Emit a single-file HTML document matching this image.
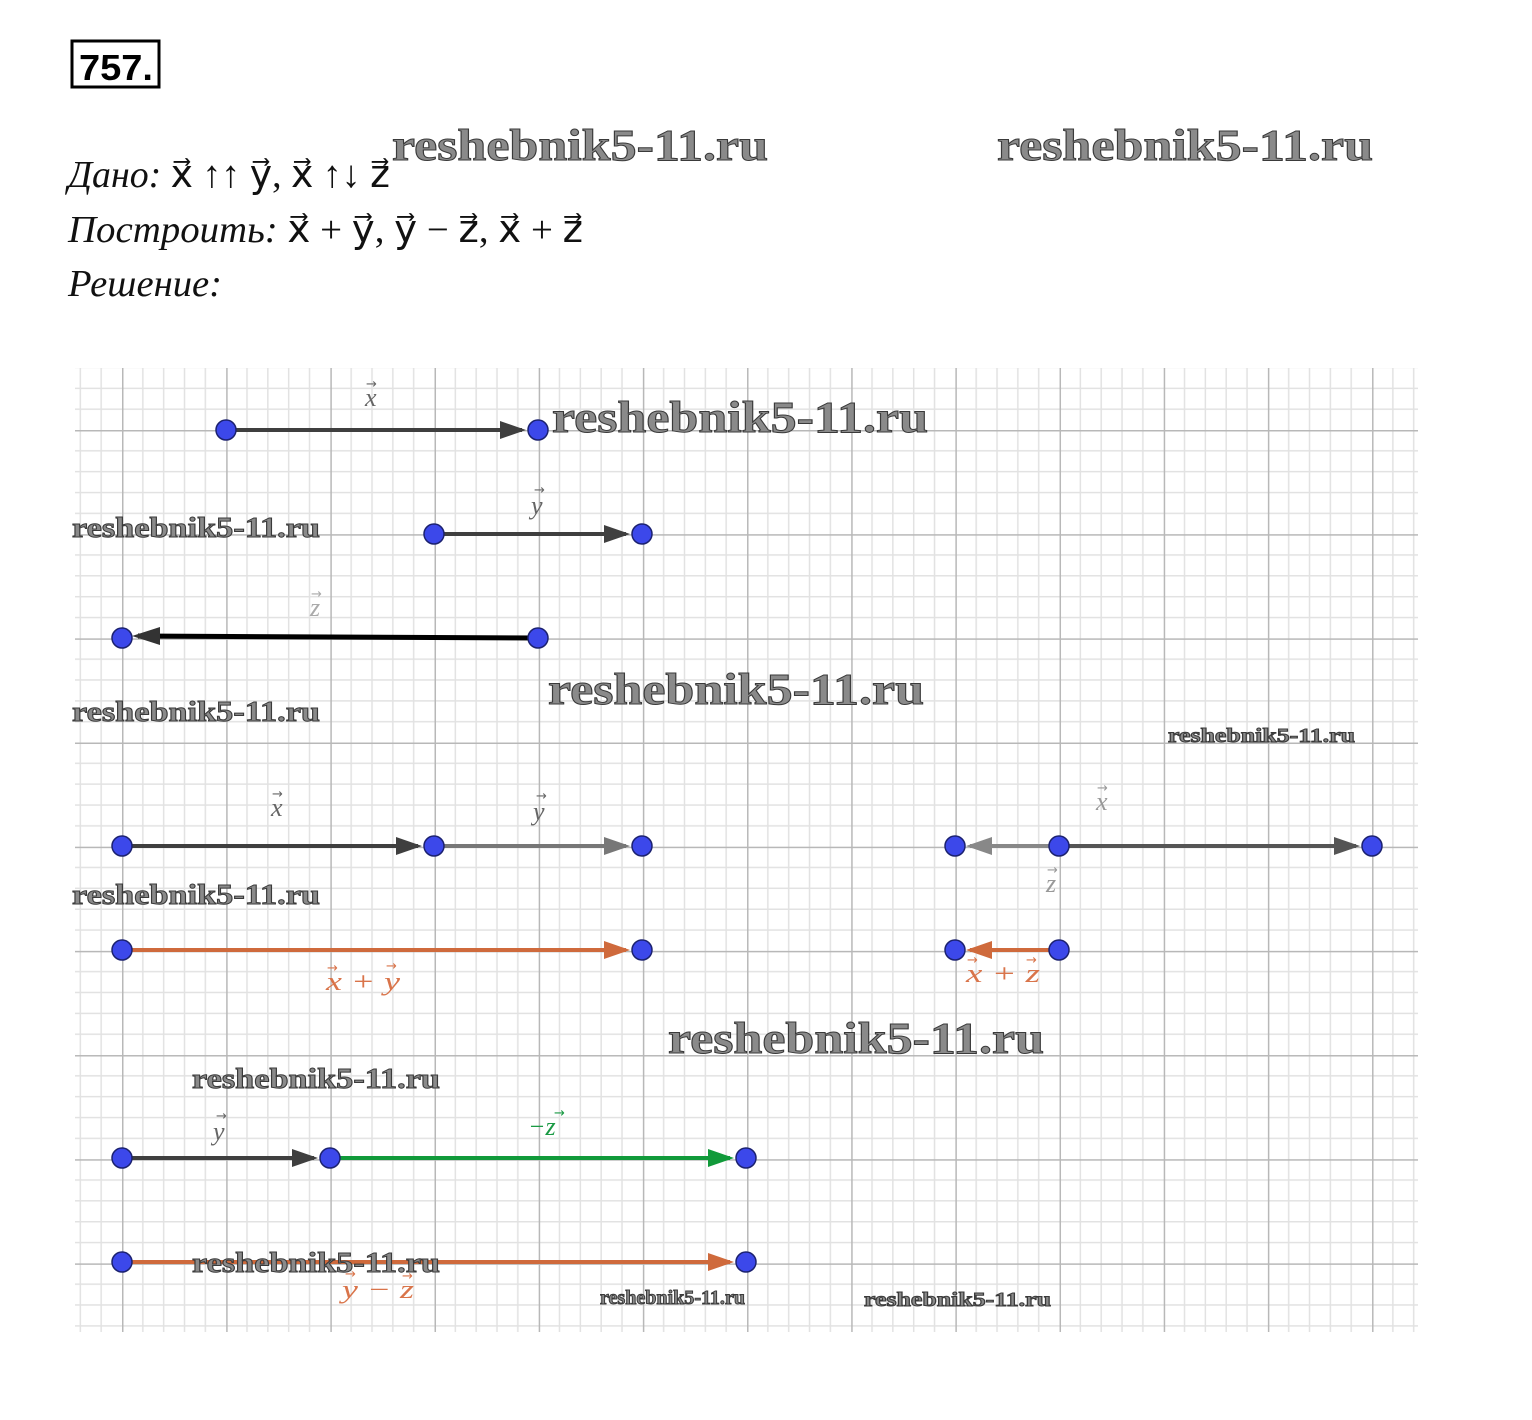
<!DOCTYPE html>
<html><head><meta charset="utf-8"><style>
html,body{margin:0;padding:0;background:#fff;}
svg{display:block;}
.wm{font-family:"Liberation Serif",serif;font-weight:bold;fill:#8a8a8a;stroke:#3a3a3a;stroke-width:1;}
.lab{font-family:"Liberation Serif",serif;font-style:italic;font-size:26px;}
.ar{font-family:"DejaVu Sans",sans-serif;font-size:13px;font-style:normal;}
.hd{font-family:"Liberation Serif",serif;font-style:italic;font-size:38px;fill:#111;}
.mt{font-style:normal;}
</style></head><body>
<svg width="1532" height="1420" viewBox="0 0 1532 1420" xmlns="http://www.w3.org/2000/svg">
<defs>
<pattern id="g" patternUnits="userSpaceOnUse" x="122" y="430" width="104.17" height="104.17">
<g stroke="#e2e2e2" stroke-width="1.5">
<line x1="20.83" y1="0" x2="20.83" y2="104.17"/><line x1="41.67" y1="0" x2="41.67" y2="104.17"/>
<line x1="62.5" y1="0" x2="62.5" y2="104.17"/><line x1="83.33" y1="0" x2="83.33" y2="104.17"/>
<line y1="20.83" x1="0" y2="20.83" x2="104.17"/><line y1="41.67" x1="0" y2="41.67" x2="104.17"/>
<line y1="62.5" x1="0" y2="62.5" x2="104.17"/><line y1="83.33" x1="0" y2="83.33" x2="104.17"/>
</g>
<g stroke="#b8b8b8" stroke-width="2"><line x1="0.5" y1="0" x2="0.5" y2="104.17"/><line x1="0" y1="0.5" x2="104.17" y2="0.5"/></g>
</pattern>
</defs>
<rect x="0" y="0" width="1532" height="1420" fill="#fff"/>
<rect x="75" y="368" width="1343" height="964" fill="url(#g)"/>

<rect x="72" y="41" width="87" height="46" fill="none" stroke="#000" stroke-width="3"/>
<text x="79" y="80" font-family="Liberation Sans,sans-serif" font-weight="bold" font-size="36" fill="#000" textLength="74" lengthAdjust="spacingAndGlyphs">757.</text>
<text class="hd" x="68" y="187" textLength="322" lengthAdjust="spacingAndGlyphs">Дано: <tspan class="mt">x⃗ ↑↑ y⃗, x⃗ ↑↓ z⃗</tspan></text>
<text class="hd" x="68" y="242" textLength="515" lengthAdjust="spacingAndGlyphs">Построить: <tspan class="mt">x⃗ + y⃗, y⃗ − z⃗, x⃗ + z⃗</tspan></text>
<text class="hd" x="68" y="296" textLength="154" lengthAdjust="spacingAndGlyphs">Решение:</text>

<g stroke-width="4" fill="none">
<line x1="226" y1="430" x2="522" y2="430" stroke="#3f3f3f"/>
<path d="M500,421 L526,430 L500,439z" fill="#3f3f3f" stroke="none"/>
<line x1="434" y1="534" x2="626" y2="534" stroke="#3f3f3f"/>
<path d="M604,525 L630,534 L604,543z" fill="#3f3f3f" stroke="none"/>
<line x1="538" y1="638" x2="138" y2="636" stroke="#000" stroke-width="5"/>
<path d="M160,627 L132,636 L160,645z" fill="#333" stroke="none"/>

<line x1="122" y1="846" x2="418" y2="846" stroke="#3f3f3f"/>
<path d="M396,837 L422,846 L396,855z" fill="#3f3f3f" stroke="none"/>
<line x1="434" y1="846" x2="626" y2="846" stroke="#777"/>
<path d="M604,837 L630,846 L604,855z" fill="#777" stroke="none"/>
<line x1="1059" y1="846" x2="1356" y2="846" stroke="#555"/>
<path d="M1334,837 L1360,846 L1334,855z" fill="#555" stroke="none"/>
<line x1="1059" y1="846" x2="970" y2="846" stroke="#888"/>
<path d="M992,837 L966,846 L992,855z" fill="#888" stroke="none"/>

<line x1="122" y1="950" x2="626" y2="950" stroke="#cf6a3c"/>
<path d="M604,941 L630,950 L604,959z" fill="#cf6a3c" stroke="none"/>
<line x1="1059" y1="950" x2="970" y2="950" stroke="#cf6a3c"/>
<path d="M992,941 L966,950 L992,959z" fill="#cf6a3c" stroke="none"/>

<line x1="122" y1="1158" x2="314" y2="1158" stroke="#3f3f3f"/>
<path d="M292,1149 L318,1158 L292,1167z" fill="#3f3f3f" stroke="none"/>
<line x1="330" y1="1158" x2="730" y2="1158" stroke="#119a3a"/>
<path d="M708,1149 L734,1158 L708,1167z" fill="#119a3a" stroke="none"/>

<line x1="122" y1="1262" x2="730" y2="1262" stroke="#cf6a3c"/>
<path d="M708,1253 L734,1262 L708,1271z" fill="#cf6a3c" stroke="none"/>
</g>

<g fill="#3c48ea" stroke="#1c2270" stroke-width="1.5">
<circle cx="226" cy="430" r="10"/><circle cx="538" cy="430" r="10"/>
<circle cx="434" cy="534" r="10"/><circle cx="642" cy="534" r="10"/>
<circle cx="122" cy="638" r="10"/><circle cx="538" cy="638" r="10"/>
<circle cx="122" cy="846" r="10"/><circle cx="434" cy="846" r="10"/><circle cx="642" cy="846" r="10"/>
<circle cx="955" cy="846" r="10"/><circle cx="1059" cy="846" r="10"/><circle cx="1372" cy="846" r="10"/>
<circle cx="122" cy="950" r="10"/><circle cx="642" cy="950" r="10"/>
<circle cx="955" cy="950" r="10"/><circle cx="1059" cy="950" r="10"/>
<circle cx="122" cy="1158" r="10"/><circle cx="330" cy="1158" r="10"/><circle cx="746" cy="1158" r="10"/>
<circle cx="122" cy="1262" r="10"/><circle cx="746" cy="1262" r="10"/>
</g>

<g class="lab" fill="#666">
<text x="365" y="406">x</text><text class="ar" x="366" y="388">→</text>
<text x="531" y="514">y</text><text class="ar" x="534" y="494">→</text>
<text x="310" y="616" fill="#aaa">z</text><text class="ar" x="311" y="598" fill="#aaa">→</text>
<text x="271" y="816">x</text><text class="ar" x="272" y="798">→</text>
<text x="533" y="820">y</text><text class="ar" x="536" y="800">→</text>
<text x="1096" y="810" fill="#999">x</text><text class="ar" x="1097" y="792" fill="#999">→</text>
<text x="1046" y="892" fill="#999">z</text><text class="ar" x="1047" y="874" fill="#999">→</text>
<text x="213" y="1140">y</text><text class="ar" x="216" y="1120">→</text>
</g>
<g class="lab" fill="#d9744a">
<text x="326" y="990" textLength="74" lengthAdjust="spacingAndGlyphs">x + y</text><text class="ar" x="327" y="972">→</text><text class="ar" x="386" y="970">→</text>
<text x="966" y="982" textLength="74" lengthAdjust="spacingAndGlyphs">x + z</text><text class="ar" x="967" y="964">→</text><text class="ar" x="1026" y="964">→</text>
<text x="342" y="1298" textLength="72" lengthAdjust="spacingAndGlyphs">y − z</text><text class="ar" x="345" y="1278">→</text><text class="ar" x="402" y="1280">→</text>
</g>
<text class="lab" x="528" y="1135" fill="#1a9a44">−z</text><text class="ar" x="554" y="1117" fill="#1a9a44">→</text>

<g class="wm" font-size="44">
<text x="392" y="160" textLength="376" lengthAdjust="spacingAndGlyphs">reshebnik5-11.ru</text>
<text x="997" y="160" textLength="376" lengthAdjust="spacingAndGlyphs">reshebnik5-11.ru</text>
<text x="552" y="432" textLength="376" lengthAdjust="spacingAndGlyphs">reshebnik5-11.ru</text>
<text x="548" y="704" textLength="376" lengthAdjust="spacingAndGlyphs">reshebnik5-11.ru</text>
<text x="668" y="1053" textLength="376" lengthAdjust="spacingAndGlyphs">reshebnik5-11.ru</text>
</g>
<g class="wm" font-size="29" stroke-width="0.8">
<text x="72" y="537" textLength="248" lengthAdjust="spacingAndGlyphs">reshebnik5-11.ru</text>
<text x="72" y="721" textLength="248" lengthAdjust="spacingAndGlyphs">reshebnik5-11.ru</text>
<text x="72" y="904" textLength="248" lengthAdjust="spacingAndGlyphs">reshebnik5-11.ru</text>
<text x="192" y="1088" textLength="248" lengthAdjust="spacingAndGlyphs">reshebnik5-11.ru</text>
<text x="192" y="1272" textLength="248" lengthAdjust="spacingAndGlyphs">reshebnik5-11.ru</text>
</g>
<g class="wm" font-size="20" stroke-width="0.5">
<text x="1168" y="742" textLength="187" lengthAdjust="spacingAndGlyphs">reshebnik5-11.ru</text>
<text x="600" y="1304" textLength="145" lengthAdjust="spacingAndGlyphs">reshebnik5-11.ru</text>
<text x="864" y="1306" textLength="187" lengthAdjust="spacingAndGlyphs">reshebnik5-11.ru</text>
</g>
</svg>
</body></html>
